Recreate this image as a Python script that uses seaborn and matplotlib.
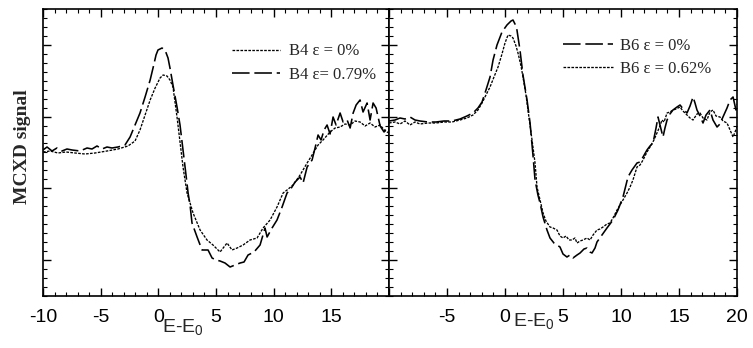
import matplotlib
matplotlib.use("Agg")
import matplotlib.pyplot as plt
from matplotlib.ticker import MultipleLocator, FixedLocator
import seaborn as sns
import numpy as np

# E-E0 (eV) and MCXD signal (arb. units)
b4_0_x = [-10.00, -9.39, -8.70, -8.01, -7.22, -6.36, -5.49, -4.45, -3.50, -2.63,
          -2.02, -1.59, -1.15, -0.71, -0.28, 0.15, 0.41, 0.75, 1.01, 1.27,
          1.62, 2.14, 2.49, 3.01, 3.62, 4.22, 4.74, 5.35, 5.96, 6.39,
          6.83, 7.35, 7.95, 8.56, 9.08, 9.69, 10.29, 10.82, 11.16, 11.68,
          12.29, 12.90, 13.33, 13.85, 14.28, 14.89, 15.33, 15.76, 16.19, 16.63,
          17.06, 17.49, 17.93, 18.36, 18.79, 19.23, 19.66, 20.00]
b4_0_y = [144, 145, 143, 144, 143, 142, 143, 145, 147, 150,
          155, 166, 181, 196, 208, 218, 221, 220, 216, 209,
          179, 129, 103, 83, 66, 56, 51, 44, 53, 46,
          48, 51, 56, 58, 68, 76, 89, 103, 106, 111,
          121, 133, 141, 151, 156, 164, 168, 169, 172, 171,
          175, 174, 170, 173, 169, 171, 165, 163]

b4_079_x = [-10.00, -9.65, -9.22, -8.79, -8.35, -7.92, -7.48, -6.79, -6.18, -5.75,
            -5.32, -4.88, -4.45, -4.02, -3.50, -2.89, -2.45, -2.02, -1.59, -1.15,
            -0.71, -0.46, -0.20, -0.03, 0.32, 0.58, 0.84, 1.01, 1.27, 1.62,
            1.88, 2.14, 2.40, 2.58, 2.75, 2.92, 3.36, 3.79, 4.31, 4.66,
            5.00, 5.35, 5.78, 6.22, 6.65, 7.09, 7.43, 7.78, 8.30, 8.82,
            9.25, 9.43, 9.86, 10.29, 10.73, 11.16, 11.42, 11.86, 12.29, 12.55,
            12.90, 13.33, 13.59, 13.85, 14.11, 14.37, 14.63, 14.89, 15.15, 15.41,
            15.76, 16.02, 16.37, 16.63, 16.89, 17.15, 17.49, 17.75, 18.10, 18.36,
            18.62, 18.88, 19.23, 19.57, 20.00]
b4_079_y = [146, 149, 145, 148, 145, 147, 146, 145, 148, 147,
            150, 147, 149, 148, 149, 151, 159, 171, 183, 199,
            216, 228, 241, 246, 248, 246, 238, 228, 211, 189,
            171, 146, 121, 103, 91, 73, 59, 46, 46, 38,
            36, 35, 33, 29, 31, 33, 34, 41, 44, 51,
            68, 59, 68, 76, 89, 103, 106, 114, 119, 113,
            129, 136, 148, 161, 156, 166, 171, 162, 179, 171,
            183, 174, 176, 168, 183, 191, 196, 184, 193, 176,
            193, 188, 170, 164, 171]

b6_0_x = [-10.00, -9.48, -9.05, -8.62, -8.19, -7.76, -7.33, -6.64, -5.95, -5.26,
          -4.57, -3.88, -3.28, -2.76, -2.33, -1.98, -1.64, -1.29, -1.03, -0.69,
          -0.26, 0.17, 0.52, 0.69, 0.86, 1.03, 1.29, 1.55, 1.90, 2.16,
          2.41, 2.59, 2.84, 3.02, 3.28, 3.62, 3.88, 4.22, 4.48, 4.74,
          5.00, 5.34, 5.60, 5.86, 6.21, 6.47, 6.81, 7.07, 7.33, 7.50,
          7.76, 7.93, 8.36, 8.79, 9.31, 9.74, 10.17, 10.43, 10.60, 10.95,
          11.38, 11.64, 11.90, 12.24, 12.50, 12.76, 13.02, 13.19, 13.36, 13.62,
          13.79, 13.97, 14.22, 14.48, 14.83, 15.09, 15.43, 15.69, 15.95, 16.21,
          16.38, 16.55, 16.81, 17.07, 17.33, 17.67, 17.93, 18.28, 18.53, 18.79,
          19.14, 19.40, 19.66, 19.91, 20.00]
b6_0_y = [175, 176, 178, 177, 179, 176, 175, 174, 174, 175,
          175, 177, 180, 183, 188, 194, 206, 219, 236, 251,
          264, 271, 275, 276, 272, 266, 246, 221, 196, 173,
          141, 116, 101, 93, 79, 66, 58, 53, 51, 49,
          42, 39, 41, 38, 41, 43, 47, 48, 44, 43,
          48, 54, 61, 68, 76, 86, 99, 111, 119, 126,
          133, 134, 139, 146, 150, 153, 168, 179, 171, 159,
          168, 176, 182, 186, 189, 191, 186, 183, 190, 199,
          193, 186, 180, 173, 181, 186, 176, 169, 172, 179,
          188, 196, 199, 186, 192]

b6_062_x = [-10.00, -9.48, -9.05, -8.62, -8.19, -7.76, -7.33, -6.64, -5.95, -5.26,
            -4.57, -3.88, -3.28, -2.76, -2.33, -1.98, -1.64, -1.29, -0.95, -0.60,
            -0.26, 0.00, 0.26, 0.52, 0.69, 0.95, 1.12, 1.38, 1.55, 1.81,
            1.98, 2.33, 2.59, 2.76, 3.02, 3.28, 3.53, 3.88, 4.14, 4.48,
            4.74, 5.00, 5.26, 5.52, 5.78, 6.03, 6.21, 6.47, 6.72, 7.07,
            7.33, 7.59, 7.93, 8.19, 8.45, 8.79, 9.05, 9.31, 9.66, 9.91,
            10.17, 10.52, 10.78, 11.03, 11.38, 11.64, 11.90, 12.24, 12.50, 12.84,
            13.10, 13.36, 13.53, 13.71, 13.97, 14.22, 14.48, 14.74, 15.09, 15.34,
            15.69, 15.95, 16.21, 16.55, 16.81, 17.07, 17.41, 17.67, 17.93, 18.19,
            18.53, 18.79, 19.14, 19.40, 19.66, 19.83, 20.00]
b6_062_y = [173, 174, 172, 175, 171, 174, 172, 173, 173, 174,
            174, 176, 178, 181, 186, 193, 201, 209, 219, 229,
            242, 253, 261, 260, 258, 250, 243, 230, 219, 201,
            186, 156, 133, 109, 96, 83, 75, 69, 68, 66,
            60, 58, 60, 56, 56, 58, 53, 55, 56, 58,
            56, 61, 66, 67, 69, 72, 73, 78, 86, 91,
            96, 103, 109, 116, 129, 131, 136, 144, 149, 156,
            163, 170, 176, 174, 183, 184, 186, 187, 189, 185,
            181, 178, 176, 182, 183, 178, 176, 184, 186, 180,
            179, 175, 173, 166, 159, 164, 169]

x_ticks = [-10, -5, 0, 5, 10, 15, 20]
left_tick_labels = ["-10", "-5", "0", "5", "10", "15", ""]
right_tick_labels = ["", "-5", "0", "5", "10", "15", "20"]

sns.set_style("ticks")
plt.rcParams['font.family'] = ['Liberation Sans', 'DejaVu Sans']
plt.rcParams['mathtext.fontset'] = 'custom'
plt.rcParams['mathtext.rm'] = 'Liberation Sans'
plt.rcParams['mathtext.it'] = 'Liberation Sans'

fig = plt.figure(figsize=(7.53, 3.48), dpi=100)
ax1 = fig.add_axes([43 / 753, 52 / 348, 346 / 753, 287 / 348])
ax2 = fig.add_axes([389 / 753, 52 / 348, 348 / 753, 287 / 348])

dotted = (0, (2, 1))
dashed = (0, (11, 3))

sns.lineplot(x=b4_0_x, y=b4_0_y, ax=ax1, color='k', lw=0.95, linestyle=dotted,
             estimator=None, label="B4 ε = 0%")
sns.lineplot(x=b4_079_x, y=b4_079_y, ax=ax1, color='k', lw=1.15, linestyle=dashed,
             estimator=None, label="B4 ε= 0.79%")
sns.lineplot(x=b6_0_x, y=b6_0_y, ax=ax2, color='k', lw=1.15, linestyle=dashed,
             estimator=None, label="B6 ε = 0%")
sns.lineplot(x=b6_062_x, y=b6_062_y, ax=ax2, color='k', lw=0.95, linestyle=dotted,
             estimator=None, label="B6 ε = 0.62%")

serif = {'family': 'Liberation Serif', 'size': 12}

for ax, labels in [(ax1, left_tick_labels), (ax2, right_tick_labels)]:
    ax.set_xlim(-10, 20)
    ax.set_ylim(0, 287)
    ax.set_xticks(x_ticks)
    ax.set_xticklabels(labels, fontsize=14)
    ax.xaxis.set_minor_locator(MultipleLocator(1))
    ax.yaxis.set_major_locator(FixedLocator(36 + 71.7 * np.arange(4)))
    ax.yaxis.set_minor_locator(FixedLocator(36 + 71.7 / 8 * np.arange(-4, 29)))
    ax.set_yticklabels([])
    ax.tick_params(which='both', direction='in', top=True, right=True, colors='k')
    ax.tick_params(which='major', length=6, width=1, pad=9)
    ax.tick_params(which='minor', length=3, width=0.8)
    for s in ax.spines.values():
        s.set_linewidth(1.2)
        s.set_color('k')
    ax.set_xlabel("E-E$_0$", fontsize=14)

ax1.xaxis.set_label_coords(0.405, -0.072)
ax2.xaxis.set_label_coords(0.417, -0.052)

ax1.set_ylabel("MCXD signal", fontfamily='Liberation Serif', fontsize=14,
               fontweight='bold')
ax1.yaxis.set_label_coords(-0.036, 0.52)
ax2.set_ylabel("")

ax1.legend(loc='upper left', bbox_to_anchor=(0.546, 0.88), frameon=False, prop=serif,
           handlelength=2.9, handletextpad=0.5, labelspacing=0.45,
           borderpad=0, borderaxespad=0)
ax2.legend(loc='upper left', bbox_to_anchor=(0.5, 0.9), frameon=False, prop=serif,
           handlelength=3.0, handletextpad=0.4, labelspacing=0.45,
           borderpad=0, borderaxespad=0)

fig.savefig("out.png", dpi=100)
